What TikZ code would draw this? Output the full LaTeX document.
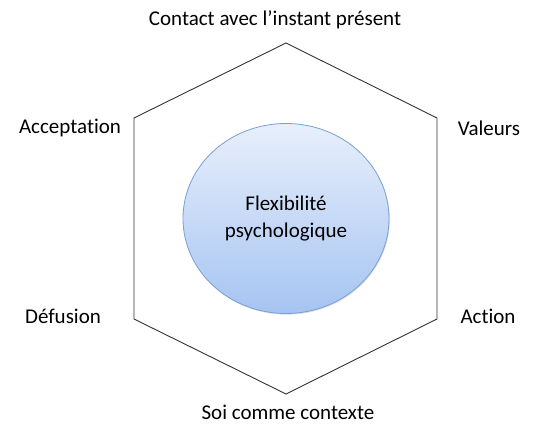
\documentclass[tikz,border=0pt]{standalone}
\usepackage{fontspec}
\setmainfont{Carlito}[Ligatures={NoCommon}]
\usetikzlibrary{shadows,shapes.geometric}
\definecolor{rim}{RGB}{120,160,215}
\definecolor{ctop}{RGB}{232,239,251}
\definecolor{cbot}{RGB}{166,196,242}
\begin{document}
\begin{tikzpicture}[x=1pt,y=-1pt,
  lbl/.style={font=\fontsize{21}{25}\selectfont, inner sep=0pt, anchor=center},
  hex/.style={draw=black!80, line width=0.9pt, line join=miter},
  core/.style={ellipse, draw=rim, line width=0.8pt,
    top color=ctop, bottom color=cbot,
    minimum width=206pt, minimum height=190pt, inner sep=0pt, align=center,
    font=\fontsize{21}{27}\selectfont,
    drop shadow={shadow xshift=0.8pt, shadow yshift=-1.2pt, opacity=0.25}}]
\useasboundingbox (0,0) rectangle (543,438);
\coordinate (t) at (286,43);
\coordinate (ur) at (437,118);
\coordinate (lr) at (437,319);
\coordinate (b) at (286,394);
\coordinate (ll) at (134,319);
\coordinate (ul) at (134,118);
\draw[hex] (t) -- (ur) -- (lr) -- (b) -- (ll) -- (ul) -- cycle;
\node[core] (c) at (286,218.5) {Flexibilité\\psychologique};
\node[lbl] (n1) at (275,20) {Contact avec l’instant présent};
\node[lbl] (n2) at (70,128) {Acceptation};
\node[lbl] (n3) at (489,128) {Valeurs};
\node[lbl] (n4) at (63,316) {Défusion};
\node[lbl] (n5) at (488,316) {Action};
\node[lbl] (n6) at (288,412) {Soi comme contexte};
\end{tikzpicture}
\end{document}
